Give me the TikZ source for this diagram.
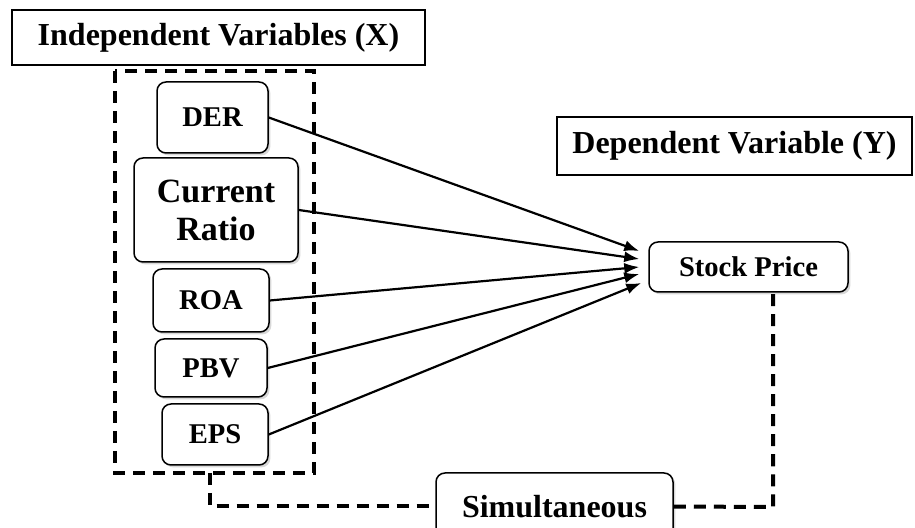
\documentclass[tikz,border=0pt]{standalone}
\usepackage{fontspec}
\setmainfont{Liberation Serif}
\usetikzlibrary{arrows.meta,shadows}

\begin{document}
\begin{tikzpicture}[x=0.5pt,y=-0.5pt,
    header/.style={draw,line width=0.7pt,inner sep=0pt,font=\fontsize{16}{19}\selectfont\bfseries},
    varbox/.style={draw,line width=0.75pt,rounded corners=4.5pt,fill=white,inner sep=0pt,align=center,
        drop shadow={fill=black!30,opacity=0.5,shadow xshift=1.2pt,shadow yshift=-1.2pt},
        font=\fontsize{14.3}{17}\selectfont\bfseries},
    link/.style={line width=1.1pt,-{Latex[length=7.5pt,width=5.5pt]}},
    simlink/.style={line width=2pt,dash pattern=on 6pt off 4pt}]
    \clip (0,0) rectangle (915,528);

    % headers
    \node[header,minimum width=206.5pt,minimum height=27.5pt] (ivar) at (218.5,37.5) {Independent Variables (X)};
    \node[header,minimum width=177.5pt,minimum height=29pt] (dvar) at (734.5,146) {Dependent Variable (Y)};

    % dashed frame round the independent variables
    \draw[simlink] (115,71) rectangle (314,473);

    % variables
    \node[varbox,minimum width=55.5pt,minimum height=35.5pt] (der) at (212.5,117.5) {DER};
    \node[varbox,minimum width=82pt,minimum height=52pt,font=\fontsize{17}{19}\selectfont\bfseries] (cr) at (216,210) {Current\\Ratio};
    \node[varbox,minimum width=58pt,minimum height=31.5pt] (roa) at (211,300.5) {ROA};
    \node[varbox,minimum width=56pt,minimum height=29pt] (pbv) at (211,368) {PBV};
    \node[varbox,minimum width=53pt,minimum height=30.5pt] (eps) at (215,434.5) {EPS};
    \node[varbox,minimum width=99.5pt,minimum height=25pt] (sp) at (748.5,267) {Stock Price};
    \node[varbox,minimum width=118.5pt,minimum height=33.5pt,font=\fontsize{16}{19}\selectfont\bfseries] (sim) at (554.5,506.5) {Simultaneous};

    % partial effects
    \draw[link] (der.east) -- ([xshift=-4.5pt,yshift=8pt]sp.west);
    \draw[link] (cr.east) -- ([xshift=-4.5pt,yshift=4pt]sp.west);
    \draw[link] (roa.east) -- ([xshift=-4.5pt]sp.west);
    \draw[link] (pbv.east) -- ([xshift=-4.5pt,yshift=-3.5pt]sp.west);
    \draw[link] (eps.east) -- ([xshift=-3.5pt,yshift=-8pt]sp.west);

    % simultaneous effect
    \coordinate (fb) at (210,473);
    \coordinate (sc) at (773,507);
    \draw[simlink] (fb) |- (sim.west);
    \draw[simlink] (sim.east) -- (sc) -- (sc |- sp.south);
\end{tikzpicture}
\end{document}
